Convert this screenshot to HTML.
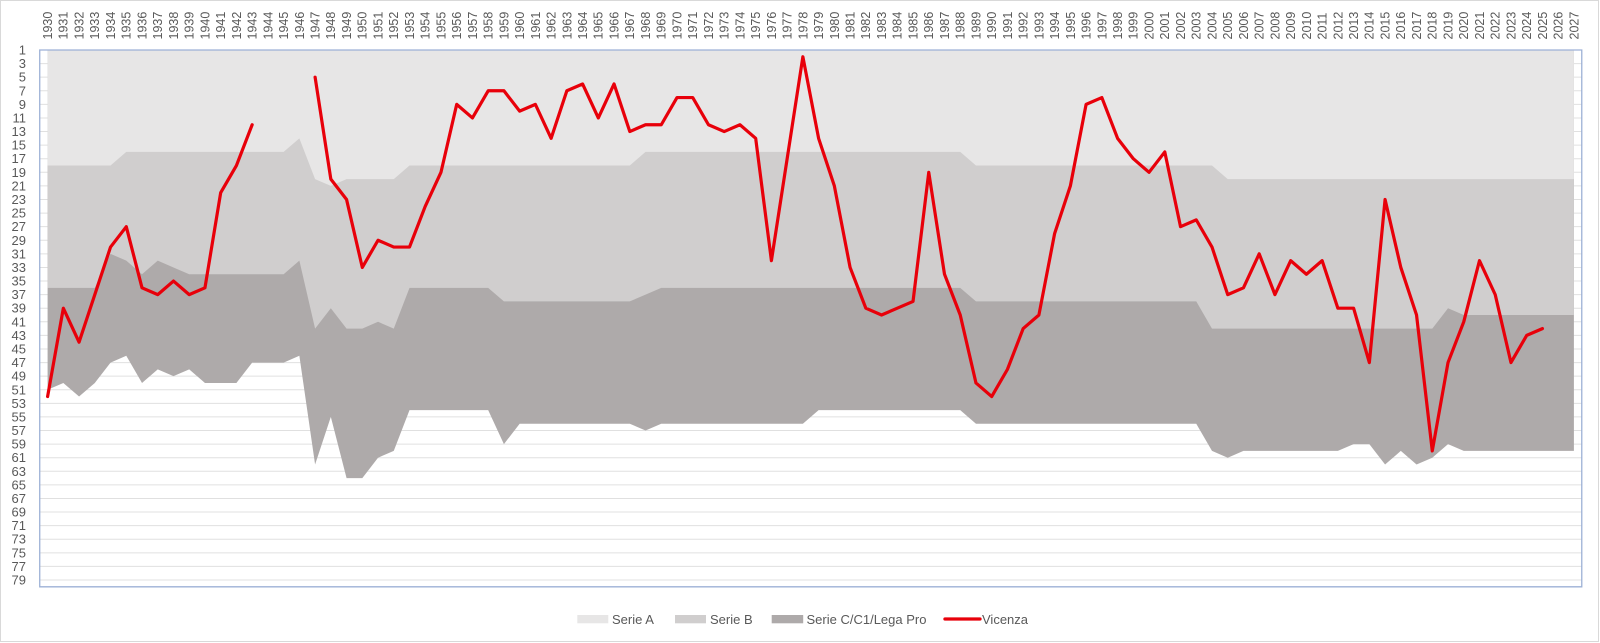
<!DOCTYPE html>
<html>
<head>
<meta charset="utf-8">
<style>
html,body{margin:0;padding:0;background:#fff;}
svg{display:block;}
text{font-family:"Liberation Sans",Arial,sans-serif;fill:#595959;}
</style>
</head>
<body>
<svg width="1600" height="643" viewBox="0 0 1600 643" xmlns="http://www.w3.org/2000/svg">
<rect x="0" y="0" width="1600" height="643" fill="#fff"/>
<rect x="0.5" y="0.5" width="1598" height="641" fill="none" stroke="#d9d9d9" stroke-width="1"/>

<!-- plot in data coords: x = year-1930, y = value-1 -->
<g transform="translate(47.6,50) scale(15.735,6.795)">
  <g stroke="#e0e0e0" stroke-width="1" vector-effect="non-scaling-stroke">
    <line x1="-0.5" x2="97.5" y1="0" y2="0" vector-effect="non-scaling-stroke"/>
    <line x1="-0.5" x2="97.5" y1="2" y2="2" vector-effect="non-scaling-stroke"/>
    <line x1="-0.5" x2="97.5" y1="4" y2="4" vector-effect="non-scaling-stroke"/>
    <line x1="-0.5" x2="97.5" y1="6" y2="6" vector-effect="non-scaling-stroke"/>
    <line x1="-0.5" x2="97.5" y1="8" y2="8" vector-effect="non-scaling-stroke"/>
    <line x1="-0.5" x2="97.5" y1="10" y2="10" vector-effect="non-scaling-stroke"/>
    <line x1="-0.5" x2="97.5" y1="12" y2="12" vector-effect="non-scaling-stroke"/>
    <line x1="-0.5" x2="97.5" y1="14" y2="14" vector-effect="non-scaling-stroke"/>
    <line x1="-0.5" x2="97.5" y1="16" y2="16" vector-effect="non-scaling-stroke"/>
    <line x1="-0.5" x2="97.5" y1="18" y2="18" vector-effect="non-scaling-stroke"/>
    <line x1="-0.5" x2="97.5" y1="20" y2="20" vector-effect="non-scaling-stroke"/>
    <line x1="-0.5" x2="97.5" y1="22" y2="22" vector-effect="non-scaling-stroke"/>
    <line x1="-0.5" x2="97.5" y1="24" y2="24" vector-effect="non-scaling-stroke"/>
    <line x1="-0.5" x2="97.5" y1="26" y2="26" vector-effect="non-scaling-stroke"/>
    <line x1="-0.5" x2="97.5" y1="28" y2="28" vector-effect="non-scaling-stroke"/>
    <line x1="-0.5" x2="97.5" y1="30" y2="30" vector-effect="non-scaling-stroke"/>
    <line x1="-0.5" x2="97.5" y1="32" y2="32" vector-effect="non-scaling-stroke"/>
    <line x1="-0.5" x2="97.5" y1="34" y2="34" vector-effect="non-scaling-stroke"/>
    <line x1="-0.5" x2="97.5" y1="36" y2="36" vector-effect="non-scaling-stroke"/>
    <line x1="-0.5" x2="97.5" y1="38" y2="38" vector-effect="non-scaling-stroke"/>
    <line x1="-0.5" x2="97.5" y1="40" y2="40" vector-effect="non-scaling-stroke"/>
    <line x1="-0.5" x2="97.5" y1="42" y2="42" vector-effect="non-scaling-stroke"/>
    <line x1="-0.5" x2="97.5" y1="44" y2="44" vector-effect="non-scaling-stroke"/>
    <line x1="-0.5" x2="97.5" y1="46" y2="46" vector-effect="non-scaling-stroke"/>
    <line x1="-0.5" x2="97.5" y1="48" y2="48" vector-effect="non-scaling-stroke"/>
    <line x1="-0.5" x2="97.5" y1="50" y2="50" vector-effect="non-scaling-stroke"/>
    <line x1="-0.5" x2="97.5" y1="52" y2="52" vector-effect="non-scaling-stroke"/>
    <line x1="-0.5" x2="97.5" y1="54" y2="54" vector-effect="non-scaling-stroke"/>
    <line x1="-0.5" x2="97.5" y1="56" y2="56" vector-effect="non-scaling-stroke"/>
    <line x1="-0.5" x2="97.5" y1="58" y2="58" vector-effect="non-scaling-stroke"/>
    <line x1="-0.5" x2="97.5" y1="60" y2="60" vector-effect="non-scaling-stroke"/>
    <line x1="-0.5" x2="97.5" y1="62" y2="62" vector-effect="non-scaling-stroke"/>
    <line x1="-0.5" x2="97.5" y1="64" y2="64" vector-effect="non-scaling-stroke"/>
    <line x1="-0.5" x2="97.5" y1="66" y2="66" vector-effect="non-scaling-stroke"/>
    <line x1="-0.5" x2="97.5" y1="68" y2="68" vector-effect="non-scaling-stroke"/>
    <line x1="-0.5" x2="97.5" y1="70" y2="70" vector-effect="non-scaling-stroke"/>
    <line x1="-0.5" x2="97.5" y1="72" y2="72" vector-effect="non-scaling-stroke"/>
    <line x1="-0.5" x2="97.5" y1="74" y2="74" vector-effect="non-scaling-stroke"/>
    <line x1="-0.5" x2="97.5" y1="76" y2="76" vector-effect="non-scaling-stroke"/>
    <line x1="-0.5" x2="97.5" y1="78" y2="78" vector-effect="non-scaling-stroke"/>
  </g>

  <!-- Serie C (total) -->
  <polygon fill="#aeaaaa" points="0,0 0,50 1,49 2,51 3,49 4,46 5,45 6,49 7,47 8,48 9,47 10,49 12,49 13,46 15,46 16,45 17,61 18,54 19,63 20,63 21,60 22,59 23,53 28,53 29,58 30,55 37,55 38,56 39,55 48,55 49,53 58,53 59,55 73,55 74,59 75,60 76,59 82,59 83,58 84,58 85,61 86,59 87,61 88,60 89,58 90,59 97,59 97,0"/>
  <!-- Serie B -->
  <polygon fill="#d0cece" points="0,0 0,35 3,35 4,30 5,31 6,33 7,31 8,32 9,33 15,33 16,31 17,41 18,38 19,41 20,41 21,40 22,41 23,35 28,35 29,37 37,37 38,36 39,35 58,35 59,37 73,37 74,41 88,41 89,38 90,39 97,39 97,0"/>
  <!-- Serie A -->
  <polygon fill="#e7e6e6" points="0,0 0,17 4,17 5,15 15,15 16,13 17,19 18,20 19,19 22,19 23,17 37,17 38,15 58,15 59,17 74,17 75,19 97,19 97,0"/>

  <!-- Vicenza -->
  <g fill="none" stroke="#e8000a" stroke-width="3.2" stroke-linejoin="round" stroke-linecap="round">
    <polyline vector-effect="non-scaling-stroke" points="0,51 1,38 2,43 3,36 4,29 5,26 6,35 7,36 8,34 9,36 10,35 11,21 12,17 13,11"/>
    <polyline vector-effect="non-scaling-stroke" points="17,4 18,19 19,22 20,32 21,28 22,29 23,29 24,23 25,18 26,8 27,10 28,6 29,6 30,9 31,8 32,13 33,6 34,5 35,10 36,5 37,12 38,11 39,11 40,7 41,7 42,11 43,12 44,11 45,13 46,31 47,16 48,1 49,13 50,20 51,32 52,38 53,39 54,38 55,37 56,18 57,33 58,39 59,49 60,51 61,47 62,41 63,39 64,27 65,20 66,8 67,7 68,13 69,16 70,18 71,15 72,26 73,25 74,29 75,36 76,35 77,30 78,36 79,31 80,33 81,31 82,38 83,38 84,46 85,22 86,32 87,39 88,59 89,46 90,40 91,31 92,36 93,46 94,42 95,41"/>
  </g>

  <rect x="-0.5" y="0" width="98" height="79" fill="none" stroke="#9db1d6" stroke-width="1.3" vector-effect="non-scaling-stroke"/>
</g>

<!-- Y labels -->
<g font-size="13" text-anchor="end">
<text x="26" y="54.5">1</text>
<text x="26" y="68.1">3</text>
<text x="26" y="81.7">5</text>
<text x="26" y="95.3">7</text>
<text x="26" y="108.9">9</text>
<text x="26" y="122.5">11</text>
<text x="26" y="136.0">13</text>
<text x="26" y="149.6">15</text>
<text x="26" y="163.2">17</text>
<text x="26" y="176.8">19</text>
<text x="26" y="190.4">21</text>
<text x="26" y="204.0">23</text>
<text x="26" y="217.6">25</text>
<text x="26" y="231.2">27</text>
<text x="26" y="244.8">29</text>
<text x="26" y="258.4">31</text>
<text x="26" y="271.9">33</text>
<text x="26" y="285.5">35</text>
<text x="26" y="299.1">37</text>
<text x="26" y="312.7">39</text>
<text x="26" y="326.3">41</text>
<text x="26" y="339.9">43</text>
<text x="26" y="353.5">45</text>
<text x="26" y="367.1">47</text>
<text x="26" y="380.7">49</text>
<text x="26" y="394.3">51</text>
<text x="26" y="407.8">53</text>
<text x="26" y="421.4">55</text>
<text x="26" y="435.0">57</text>
<text x="26" y="448.6">59</text>
<text x="26" y="462.2">61</text>
<text x="26" y="475.8">63</text>
<text x="26" y="489.4">65</text>
<text x="26" y="503.0">67</text>
<text x="26" y="516.6">69</text>
<text x="26" y="530.2">71</text>
<text x="26" y="543.7">73</text>
<text x="26" y="557.3">75</text>
<text x="26" y="570.9">77</text>
<text x="26" y="584.5">79</text>
</g>

<!-- X labels (rotated) -->
<g font-size="12.5">
<text transform="translate(52.00 39.5) rotate(-90)">1930</text>
<text transform="translate(67.74 39.5) rotate(-90)">1931</text>
<text transform="translate(83.47 39.5) rotate(-90)">1932</text>
<text transform="translate(99.21 39.5) rotate(-90)">1933</text>
<text transform="translate(114.94 39.5) rotate(-90)">1934</text>
<text transform="translate(130.68 39.5) rotate(-90)">1935</text>
<text transform="translate(146.41 39.5) rotate(-90)">1936</text>
<text transform="translate(162.15 39.5) rotate(-90)">1937</text>
<text transform="translate(177.88 39.5) rotate(-90)">1938</text>
<text transform="translate(193.62 39.5) rotate(-90)">1939</text>
<text transform="translate(209.35 39.5) rotate(-90)">1940</text>
<text transform="translate(225.09 39.5) rotate(-90)">1941</text>
<text transform="translate(240.82 39.5) rotate(-90)">1942</text>
<text transform="translate(256.56 39.5) rotate(-90)">1943</text>
<text transform="translate(272.29 39.5) rotate(-90)">1944</text>
<text transform="translate(288.03 39.5) rotate(-90)">1945</text>
<text transform="translate(303.76 39.5) rotate(-90)">1946</text>
<text transform="translate(319.50 39.5) rotate(-90)">1947</text>
<text transform="translate(335.23 39.5) rotate(-90)">1948</text>
<text transform="translate(350.97 39.5) rotate(-90)">1949</text>
<text transform="translate(366.70 39.5) rotate(-90)">1950</text>
<text transform="translate(382.44 39.5) rotate(-90)">1951</text>
<text transform="translate(398.17 39.5) rotate(-90)">1952</text>
<text transform="translate(413.91 39.5) rotate(-90)">1953</text>
<text transform="translate(429.64 39.5) rotate(-90)">1954</text>
<text transform="translate(445.38 39.5) rotate(-90)">1955</text>
<text transform="translate(461.11 39.5) rotate(-90)">1956</text>
<text transform="translate(476.85 39.5) rotate(-90)">1957</text>
<text transform="translate(492.58 39.5) rotate(-90)">1958</text>
<text transform="translate(508.32 39.5) rotate(-90)">1959</text>
<text transform="translate(524.05 39.5) rotate(-90)">1960</text>
<text transform="translate(539.79 39.5) rotate(-90)">1961</text>
<text transform="translate(555.52 39.5) rotate(-90)">1962</text>
<text transform="translate(571.26 39.5) rotate(-90)">1963</text>
<text transform="translate(586.99 39.5) rotate(-90)">1964</text>
<text transform="translate(602.73 39.5) rotate(-90)">1965</text>
<text transform="translate(618.46 39.5) rotate(-90)">1966</text>
<text transform="translate(634.20 39.5) rotate(-90)">1967</text>
<text transform="translate(649.93 39.5) rotate(-90)">1968</text>
<text transform="translate(665.67 39.5) rotate(-90)">1969</text>
<text transform="translate(681.40 39.5) rotate(-90)">1970</text>
<text transform="translate(697.14 39.5) rotate(-90)">1971</text>
<text transform="translate(712.87 39.5) rotate(-90)">1972</text>
<text transform="translate(728.61 39.5) rotate(-90)">1973</text>
<text transform="translate(744.34 39.5) rotate(-90)">1974</text>
<text transform="translate(760.08 39.5) rotate(-90)">1975</text>
<text transform="translate(775.81 39.5) rotate(-90)">1976</text>
<text transform="translate(791.55 39.5) rotate(-90)">1977</text>
<text transform="translate(807.28 39.5) rotate(-90)">1978</text>
<text transform="translate(823.02 39.5) rotate(-90)">1979</text>
<text transform="translate(838.75 39.5) rotate(-90)">1980</text>
<text transform="translate(854.49 39.5) rotate(-90)">1981</text>
<text transform="translate(870.22 39.5) rotate(-90)">1982</text>
<text transform="translate(885.96 39.5) rotate(-90)">1983</text>
<text transform="translate(901.69 39.5) rotate(-90)">1984</text>
<text transform="translate(917.43 39.5) rotate(-90)">1985</text>
<text transform="translate(933.16 39.5) rotate(-90)">1986</text>
<text transform="translate(948.90 39.5) rotate(-90)">1987</text>
<text transform="translate(964.63 39.5) rotate(-90)">1988</text>
<text transform="translate(980.37 39.5) rotate(-90)">1989</text>
<text transform="translate(996.10 39.5) rotate(-90)">1990</text>
<text transform="translate(1011.84 39.5) rotate(-90)">1991</text>
<text transform="translate(1027.57 39.5) rotate(-90)">1992</text>
<text transform="translate(1043.31 39.5) rotate(-90)">1993</text>
<text transform="translate(1059.04 39.5) rotate(-90)">1994</text>
<text transform="translate(1074.78 39.5) rotate(-90)">1995</text>
<text transform="translate(1090.51 39.5) rotate(-90)">1996</text>
<text transform="translate(1106.25 39.5) rotate(-90)">1997</text>
<text transform="translate(1121.98 39.5) rotate(-90)">1998</text>
<text transform="translate(1137.72 39.5) rotate(-90)">1999</text>
<text transform="translate(1153.45 39.5) rotate(-90)">2000</text>
<text transform="translate(1169.19 39.5) rotate(-90)">2001</text>
<text transform="translate(1184.92 39.5) rotate(-90)">2002</text>
<text transform="translate(1200.66 39.5) rotate(-90)">2003</text>
<text transform="translate(1216.39 39.5) rotate(-90)">2004</text>
<text transform="translate(1232.13 39.5) rotate(-90)">2005</text>
<text transform="translate(1247.86 39.5) rotate(-90)">2006</text>
<text transform="translate(1263.60 39.5) rotate(-90)">2007</text>
<text transform="translate(1279.33 39.5) rotate(-90)">2008</text>
<text transform="translate(1295.07 39.5) rotate(-90)">2009</text>
<text transform="translate(1310.80 39.5) rotate(-90)">2010</text>
<text transform="translate(1326.54 39.5) rotate(-90)">2011</text>
<text transform="translate(1342.27 39.5) rotate(-90)">2012</text>
<text transform="translate(1358.01 39.5) rotate(-90)">2013</text>
<text transform="translate(1373.74 39.5) rotate(-90)">2014</text>
<text transform="translate(1389.48 39.5) rotate(-90)">2015</text>
<text transform="translate(1405.21 39.5) rotate(-90)">2016</text>
<text transform="translate(1420.95 39.5) rotate(-90)">2017</text>
<text transform="translate(1436.68 39.5) rotate(-90)">2018</text>
<text transform="translate(1452.42 39.5) rotate(-90)">2019</text>
<text transform="translate(1468.15 39.5) rotate(-90)">2020</text>
<text transform="translate(1483.89 39.5) rotate(-90)">2021</text>
<text transform="translate(1499.62 39.5) rotate(-90)">2022</text>
<text transform="translate(1515.36 39.5) rotate(-90)">2023</text>
<text transform="translate(1531.09 39.5) rotate(-90)">2024</text>
<text transform="translate(1546.83 39.5) rotate(-90)">2025</text>
<text transform="translate(1562.56 39.5) rotate(-90)">2026</text>
<text transform="translate(1578.30 39.5) rotate(-90)">2027</text>
</g>

<!-- Legend -->
<g font-size="13">
  <rect x="577.3" y="615" width="31" height="8.3" fill="#e7e6e6"/>
  <text x="612" y="623.8">Serie A</text>
  <rect x="675" y="615" width="31" height="8.3" fill="#d0cece"/>
  <text x="710" y="623.8">Serie B</text>
  <rect x="771.7" y="615" width="31.5" height="8.3" fill="#aeaaaa"/>
  <text x="806.5" y="623.8">Serie C/C1/Lega Pro</text>
  <line x1="945" y1="619" x2="980" y2="619" stroke="#e8000a" stroke-width="3.3" stroke-linecap="round"/>
  <text x="982" y="623.8">Vicenza</text>
</g>
</svg>
</body>
</html>
